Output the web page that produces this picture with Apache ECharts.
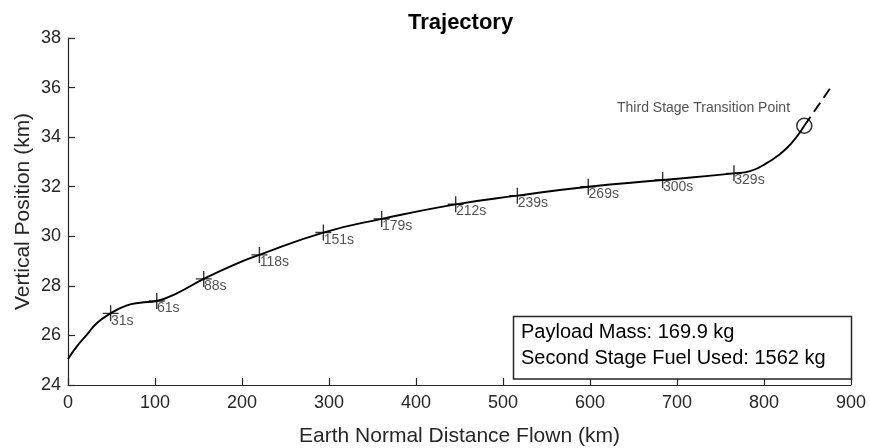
<!DOCTYPE html>
<html>
<head>
<meta charset="utf-8">
<script src="https://cdn.jsdelivr.net/npm/echarts@6/dist/echarts.min.js"></script>
<style>
  html, body { margin: 0; padding: 0; background: #fff; }
  #chart { width: 870px; height: 448px; }
</style>
</head>
<body>
<div id="chart"></div>
<script>
// Flight path: earth-normal distance (km) vs vertical position (km)
const pathDistance = [0, 10, 21.5, 33, 49, 67, 83, 102, 125, 156, 190, 220, 293.5, 360.5, 445.6, 516.5, 598, 683.5, 765.5, 784, 803, 826, 846.3];
const pathAltitude = [25.05, 25.55, 26.02, 26.49, 26.89, 27.20, 27.32, 27.39, 27.70, 28.28, 28.84, 29.25, 30.15, 30.70, 31.29, 31.64, 32.00, 32.27, 32.54, 32.63, 32.95, 33.55, 34.46];

// Timestamped points along the path
const markerDistance = [49, 102, 156, 220, 293.5, 360.5, 445.6, 516.5, 598, 683.5, 765.5];
const markerAltitude = [26.89, 27.39, 28.28, 29.25, 30.15, 30.70, 31.29, 31.64, 32.00, 32.27, 32.54];
const markerTimes = ['31s', '61s', '88s', '118s', '151s', '179s', '212s', '239s', '269s', '300s', '329s'];

// Third stage: transition point and the extrapolated segment beyond it
const transitionDistance = [846.3, 876];
const transitionAltitude = [34.46, 35.97];
const transitionLabel = 'Third Stage Transition Point';

// Summary figures
const payloadMass = 169.9;
const secondStageFuel = 1562;

const xTicks = { min: 0, max: 900, interval: 100 };
const yTicks = { min: 24, max: 38, interval: 2 };

const FONT = "'Liberation Sans', Arial, Helvetica, sans-serif";
const INK = '#262626';

const zip = (xs, ys) => xs.map((x, i) => [x, ys[i]]);

const chart = echarts.init(document.getElementById('chart'), null, { renderer: 'canvas' });

const gridLeft = 68, gridRight = 19, gridTop = 38, gridBottom = 63;

const axisCommon = {
  type: 'value',
  nameLocation: 'middle',
  nameMoveOverlap: false,
  axisLine: { show: true, onZero: false, lineStyle: { color: INK, width: 1.2 } },
  axisTick: { show: true, inside: true, length: 7, lineStyle: { color: INK, width: 1.2 } },
  splitLine: { show: false },
  axisLabel: { color: INK, fontSize: 18, fontFamily: FONT },
  nameTextStyle: { color: INK, fontSize: 21, fontFamily: FONT, verticalAlign: 'middle' }
};

chart.setOption({
  animation: false,
  backgroundColor: '#fff',
  title: {
    text: 'Trajectory',
    left: 403,
    top: 7,
    textStyle: { color: '#000', fontSize: 22, fontWeight: 'bold', fontFamily: FONT }
  },
  grid: {
    left: gridLeft, right: gridRight, top: gridTop, bottom: gridBottom,
    containLabel: false,
    outerBoundsMode: 'none'
  },
  xAxis: Object.assign({}, axisCommon, {
    name: 'Earth Normal Distance Flown (km)',
    nameGap: 51,
    min: xTicks.min, max: xTicks.max, interval: xTicks.interval,
    axisLabel: Object.assign({}, axisCommon.axisLabel, { margin: 9 })
  }),
  yAxis: Object.assign({}, axisCommon, {
    name: 'Vertical Position (km)',
    nameGap: 45,
    min: yTicks.min, max: yTicks.max, interval: yTicks.interval,
    axisLabel: Object.assign({}, axisCommon.axisLabel, { margin: 7 })
  }),
  series: [
    {
      name: 'path',
      type: 'line',
      data: zip(pathDistance, pathAltitude),
      smooth: 0.5,
      showSymbol: false,
      lineStyle: { color: '#000', width: 1.9 },
      z: 2
    },
    {
      name: 'extrapolated',
      type: 'line',
      data: zip(transitionDistance, transitionAltitude),
      showSymbol: false,
      lineStyle: { color: '#000', width: 1.9, type: [11, 6] },
      z: 2
    },
    {
      name: 'times',
      type: 'scatter',
      symbol: 'path://M0,8H16M8,0V16',
      symbolSize: 16,
      data: markerDistance.map((d, i) => ({ value: [d, markerAltitude[i]], name: markerTimes[i] })),
      itemStyle: { color: 'rgba(0,0,0,0)', borderColor: '#000', borderWidth: 1.4 },
      label: {
        show: true,
        formatter: '{b}',
        position: [9, 9],
        align: 'left',
        verticalAlign: 'top',
        color: INK,
        fontSize: 14,
        fontFamily: FONT
      },
      z: 3
    },
    {
      name: 'transition',
      type: 'scatter',
      symbol: 'circle',
      symbolSize: 15,
      data: [{ value: [transitionDistance[0], transitionAltitude[0]], name: transitionLabel }],
      itemStyle: { color: 'rgba(0,0,0,0)', borderColor: '#000', borderWidth: 1.5 },
      label: {
        show: true,
        formatter: '{b}',
        position: 'left',
        distance: 6,
        offset: [0, -18],
        color: INK,
        fontSize: 14,
        fontFamily: FONT
      },
      z: 3
    }
  ],
  graphic: [
    {
      type: 'rect',
      shape: { x: 513.5, y: 316.5, width: 338, height: 62.5 },
      style: { fill: '#fff', stroke: INK, lineWidth: 1.5 },
      z: 10
    },
    {
      type: 'text',
      x: 521,
      y: 319,
      style: {
        text: 'Payload Mass: ' + payloadMass.toFixed(1) + ' kg\nSecond Stage Fuel Used: ' + secondStageFuel + ' kg',
        font: '20px ' + FONT,
        lineHeight: 26,
        fill: '#000',
        textVerticalAlign: 'top'
      },
      z: 11
    }
  ]
});
</script>
</body>
</html>
